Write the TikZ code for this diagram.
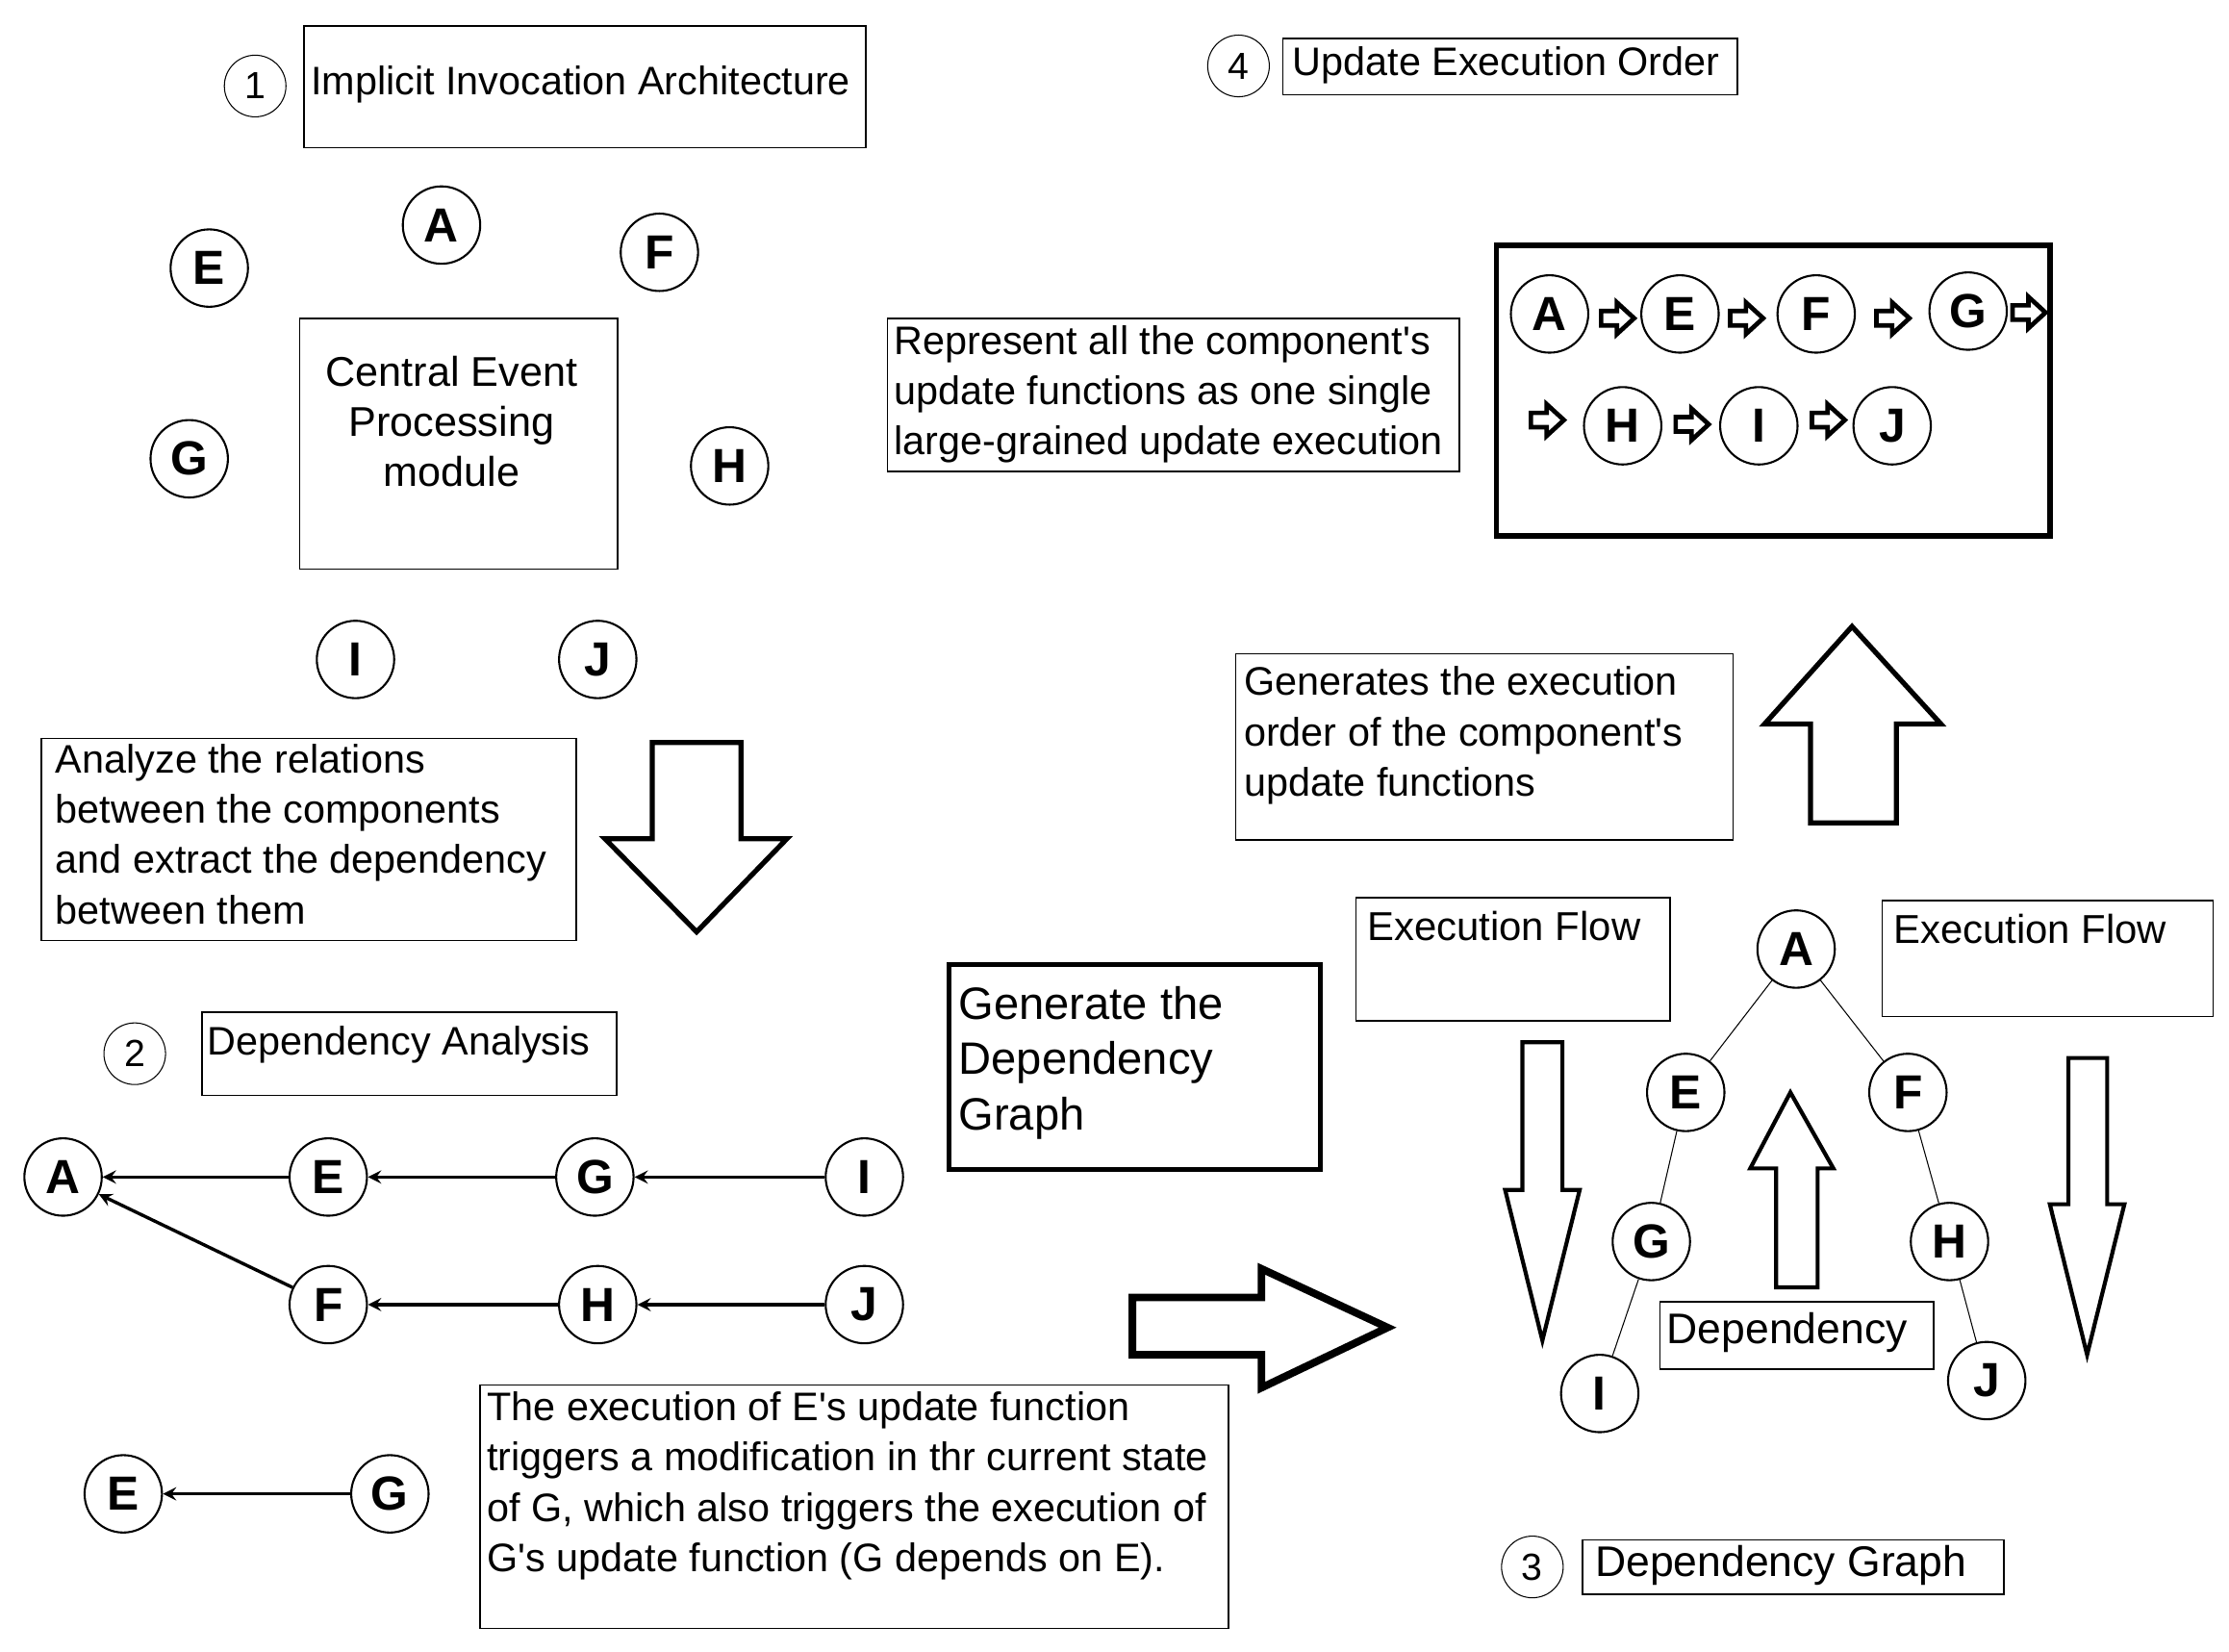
\documentclass[tikz,border=0pt]{standalone}
\usepackage{fontspec}
\setmainfont{Liberation Sans}
\newcommand{\q}{\textquotesingle}
\begin{document}
\begin{tikzpicture}[x=0.02cm,y=-0.02cm,
  comp/.style={circle,draw,thick,minimum size=1.08cm,inner sep=0pt,font=\fontsize{19}{20}\selectfont\bfseries},
  num/.style={circle,draw,minimum size=0.86cm,inner sep=0pt,font=\fontsize{15}{16}\selectfont},
  txt/.style={anchor=north west,align=left,inner sep=2pt,font=\fontsize{15.8}{20}\selectfont},
  frame/.style={draw,semithick},
  dep/.style={->,>=stealth,line width=1.3pt},
  hollow/.style={draw,line width=2pt,fill=white},
  tree/.style={draw,thin}]
\useasboundingbox (0,0) rectangle (1555,1152);
\tikzset{sarr/.pic={\draw[line width=1.8pt] (-11,-5)--(0,-5)--(0,-11)--(12,0)--(0,11)--(0,5)--(-11,5)--cycle;}}
% ---------- section 1
\node[num] (n1) at (178,60) {1};
\draw[frame] (212,18) rectangle (604,103);
\node[txt] (t1) at (213,42) {Implicit Invocation Architecture};
\node[comp] (a1) at (308,157) {A};
\node[comp] (e1) at (146,187) {E};
\node[comp] (f1) at (460,176) {F};
\node[comp] (g1) at (132,320) {G};
\node[comp] (h1) at (509,325) {H};
\node[comp] (i1) at (248,460) {I};
\node[comp] (j1) at (417,460) {J};
\draw[frame] (209,222) rectangle (431,397);
\node[align=center,font=\fontsize{16.5}{20}\selectfont] (cep) at (315,294) {Central Event\\Processing\\module};
\draw[frame] (29,515) rectangle (402,656);
\node[txt] (t2) at (35,515) {Analyze the relations\\between the components\\and extract the dependency\\between them};
\draw[hollow] (455,518)--(517,518)--(517,585)--(549,585)--(486,650)--(422,585)--(455,585)--cycle;
% ---------- section 2
\node[num] (n2) at (94,735) {2};
\draw[frame] (141,706) rectangle (430,764);
\node[txt] (t3) at (141,712) {Dependency Analysis};
\node[comp] (a2) at (44,821) {A};
\node[comp] (e2) at (229,821) {E};
\node[comp] (g2) at (415,821) {G};
\node[comp] (i2) at (603,821) {I};
\node[comp] (f2) at (229,910) {F};
\node[comp] (h2) at (417,910) {H};
\node[comp] (j2) at (603,910) {J};
\draw[dep] (e2)--(a2); \draw[dep] (g2)--(e2); \draw[dep] (i2)--(g2);
\draw[dep] (f2)--(a2); \draw[dep] (h2)--(f2); \draw[dep] (j2)--(h2);
\node[comp] (e3) at (86,1042) {E};
\node[comp] (g3) at (272,1042) {G};
\draw[dep] (g3)--(e3);
\draw[frame] (335,966) rectangle (857,1136);
\node[txt] (t4) at (336,967) {The execution of E\q s update function\\triggers a modification in thr current state\\of G, which also triggers the execution of\\G\q s update function (G depends on E).};
\draw[line width=2pt] (662,673) rectangle (921,816);
\node[txt,font=\fontsize{18}{22}\selectfont] (t5) at (665,684) {Generate the\\Dependency\\Graph};
\draw[hollow,line width=3pt] (790,905)--(880,905)--(880,885)--(968,926)--(880,968)--(880,945)--(790,945)--cycle;
% ---------- section 3
\node[num] (n3) at (1069,1093) {3};
\draw[frame] (1104,1074) rectangle (1398,1112);
\node[txt,font=\fontsize{17}{20}\selectfont] (t6) at (1109,1074) {Dependency Graph};
\node[comp] (a3) at (1253,662) {A};
\node[comp] (e4) at (1176,762) {E};
\node[comp] (f3) at (1331,762) {F};
\node[comp] (g4) at (1152,866) {G};
\node[comp] (h3) at (1360,866) {H};
\node[comp] (i3) at (1116,972) {I};
\node[comp] (j3) at (1386,963) {J};
\draw[tree] (a3)--(e4); \draw[tree] (a3)--(f3);
\draw[tree] (e4)--(g4); \draw[tree] (g4)--(i3);
\draw[tree] (f3)--(h3); \draw[tree] (h3)--(j3);
\draw[frame] (946,626) rectangle (1165,712);
\node[txt,font=\fontsize{16}{20}\selectfont] (t7) at (950,632) {Execution Flow};
\draw[frame] (1313,628) rectangle (1544,709);
\node[txt,font=\fontsize{16}{20}\selectfont] (t8) at (1317,634) {Execution Flow};
\draw[hollow,line width=1.6pt] (1062,727)--(1090,727)--(1090,830)--(1102,830)--(1076,935)--(1050,830)--(1062,830)--cycle;
\draw[hollow,line width=1.6pt] (1443,738)--(1470,738)--(1470,840)--(1482,840)--(1456,945)--(1430,840)--(1443,840)--cycle;
\draw[hollow,line width=1.6pt] (1239,898)--(1268,898)--(1268,815)--(1279,815)--(1249,762)--(1221,815)--(1239,815)--cycle;
\draw[frame,fill=white] (1158,908) rectangle (1349,955);
\node[txt,font=\fontsize{17}{20}\selectfont] (t9) at (1159,912) {Dependency};
\draw[frame] (862,456) rectangle (1209,586);
\node[txt] (t10) at (864,461) {Generates the execution\\order of the component\q s\\update functions};
\draw[hollow] (1263,574)--(1323,574)--(1323,505)--(1354,505)--(1292,437)--(1231,505)--(1263,505)--cycle;
% ---------- section 4
\node[num] (n4) at (864,46) {4};
\draw[frame] (895,27) rectangle (1212,66);
\node[txt] (t11) at (898,29) {Update Execution Order};
\draw[frame] (619,222) rectangle (1018,329);
\node[txt] (t12) at (620,223) {Represent all the component\q s\\update functions as one single\\large-grained update execution};
\draw[line width=2.2pt] (1044,171) rectangle (1430,374);
\node[comp] (a4) at (1081,219) {A};
\node[comp] (e5) at (1172,219) {E};
\node[comp] (f4) at (1267,219) {F};
\node[comp] (g5) at (1373,217) {G};
\node[comp] (h4) at (1132,297) {H};
\node[comp] (i4) at (1227,297) {I};
\node[comp] (j4) at (1320,297) {J};
\pic at (1128,222) {sarr}; \pic at (1218,222) {sarr}; \pic at (1320,222) {sarr}; \pic at (1415,218) {sarr};
\pic at (1079,293) {sarr}; \pic at (1180,296) {sarr}; \pic at (1275,293) {sarr};
\end{tikzpicture}
\end{document}
